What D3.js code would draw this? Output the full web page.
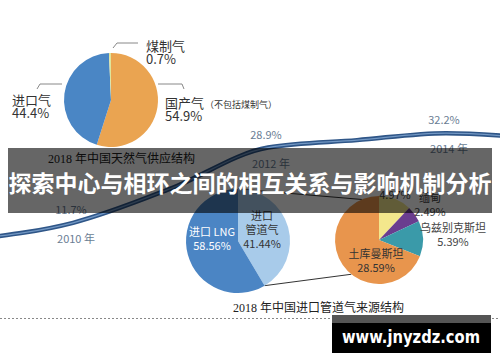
<!DOCTYPE html>
<html>
<head>
<meta charset="utf-8">
<script src="https://cdn.jsdelivr.net/npm/d3@7"></script>
<style>
  body { margin: 0; background: #fff; }
  svg { display: block; }
</style>
</head>
<body>
<div id="chart"></div>
<script>
// 2018 supply structure
const supplyLabels = ["国产气", "进口气", "煤制气"];
const supplyValues = [54.9, 44.4, 0.7];
const supplyColors = ["#eaa451", "#4a86c5", "#dfe59a"];

// import split
const importLabels = ["进口管道气", "进口 LNG"];
const importValues = [41.44, 58.56];
const importColors = ["#a8cbea", "#4b85c4"];

// pipeline gas sources
const pipeLabels = ["哈萨克斯坦", "缅甸", "乌兹别克斯坦", "土库曼斯坦"];
const pipeValues = [4.97, 2.49, 5.39, 28.59];
const pipeColors = ["#f3e78c", "#6a3d8f", "#3a9aa9", "#e8954d"];

// import dependency line
const years = [2009, 2010, 2011, 2012, 2013, 2014, 2015];
const dependency = [8.0, 11.7, 19.5, 28.9, 30.6, 32.2, 31.0];
const labelYears = [2010, 2012, 2014];

const W = 500, H = 362;
const sans = "'Noto Sans CJK SC', 'Noto Sans', sans-serif";
const serif = "'Liberation Serif', 'Noto Sans CJK SC', serif";

const svg = d3.select("#chart").append("svg")
    .attr("width", W)
    .attr("height", H);

// ---- dependency line ----
const x = d3.scaleLinear().domain([2010, 2012, 2014]).range([73, 268, 446]);
const y = d3.scaleLinear().domain([0, 40]).range([274, 99]);

const line = d3.line()
    .x((d, i) => x(years[i]))
    .y(d => y(d))
    .curve(d3.curveMonotoneX);

svg.append("path")
    .attr("d", line(dependency))
    .attr("fill", "none")
    .attr("stroke", "#2f5688")
    .attr("stroke-width", 4.5);
svg.append("path")
    .attr("d", line(dependency))
    .attr("fill", "none")
    .attr("stroke", "#7398c4")
    .attr("stroke-width", 1.3);

labelYears.forEach(yr => {
    const v = dependency[years.indexOf(yr)];
    svg.append("text")
        .attr("x", x(yr) - 2)
        .attr("y", y(v) - 9)
        .attr("text-anchor", "middle")
        .attr("font-family", sans)
        .attr("font-size", 11)
        .attr("fill", "#6a7d93")
        .text(v.toFixed(1) + "%");
    svg.append("text")
        .attr("x", x(yr) + 3)
        .attr("y", y(v) + 20)
        .attr("text-anchor", "middle")
        .attr("font-family", sans)
        .attr("font-size", 11)
        .attr("fill", "#6a7d93")
        .text(yr + " 年");
});

// ---- pie 1: supply ----
const pie = d3.pie().sort(null).value(d => d);

const p1 = {cx: 111, cy: 100, r: 47};
const g1 = svg.append("g").attr("transform", `translate(${p1.cx},${p1.cy})`);
g1.selectAll("path")
    .data(pie(supplyValues))
    .enter()
    .append("path")
    .attr("d", d3.arc().innerRadius(0).outerRadius(p1.r))
    .attr("fill", (d, i) => supplyColors[i]);

const leaders = [
    [[158, 84], [182, 84], [184, 89]],
    [[37, 89], [40, 84], [62, 84]],
    [[113, 48], [117, 43], [138, 43]]
];
leaders.forEach(pts => {
    svg.append("path")
        .attr("d", d3.line()(pts))
        .attr("fill", "none")
        .attr("stroke", "#888")
        .attr("stroke-width", 1);
});

const supplyPos = [[165, 108], [12, 105], [146, 51]];
supplyLabels.forEach((lab, i) => {
    const t = svg.append("text")
        .attr("x", supplyPos[i][0])
        .attr("y", supplyPos[i][1])
        .attr("font-family", sans)
        .attr("font-size", 13)
        .attr("fill", "#333");
    t.append("tspan").text(lab);
    if (i === 0) {
        t.append("tspan").attr("font-size", 9).attr("dx", 1).text("（不包括煤制气）");
    }
    svg.append("text")
        .attr("x", supplyPos[i][0])
        .attr("y", supplyPos[i][1] + 13)
        .attr("font-family", sans)
        .attr("font-size", 13)
        .attr("fill", "#333")
        .text(supplyValues[i] + "%");
});

svg.append("text")
    .attr("x", 48)
    .attr("y", 163)
    .attr("font-family", serif)
    .attr("font-size", 12)
    .attr("fill", "#222")
    .text("2018 年中国天然气供应结构");

// ---- pie 2 + pie 3 ----
const p2 = {cx: 238, cy: 241, r: 52};
const p3 = {cx: 379, cy: 240, r: 44};
const arcs2 = pie(importValues);
const arcs3 = pie(pipeValues);

function onCircle(p, a) {
    return [p.cx + p.r * Math.sin(a), p.cy - p.r * Math.cos(a)];
}
[[onCircle(p2, arcs2[0].startAngle), onCircle(p3, -0.4)],
 [onCircle(p2, arcs2[0].endAngle), onCircle(p3, 3.82)]].forEach(seg => {
    svg.append("path")
        .attr("d", d3.line()(seg))
        .attr("stroke", "#333")
        .attr("stroke-width", 1);
});

const g2 = svg.append("g").attr("transform", `translate(${p2.cx},${p2.cy})`);
g2.selectAll("path")
    .data(arcs2)
    .enter()
    .append("path")
    .attr("d", d3.arc().innerRadius(0).outerRadius(p2.r))
    .attr("fill", (d, i) => importColors[i]);

const g3 = svg.append("g").attr("transform", `translate(${p3.cx},${p3.cy})`);
g3.selectAll("path")
    .data(arcs3)
    .enter()
    .append("path")
    .attr("d", d3.arc().innerRadius(0).outerRadius(p3.r))
    .attr("fill", (d, i) => pipeColors[i]);

function multiText(lines, px, py, color, size) {
    lines.forEach((s, k) => {
        svg.append("text")
            .attr("x", px)
            .attr("y", py + k * 14)
            .attr("text-anchor", "middle")
            .attr("font-family", sans)
            .attr("font-size", size || 11)
            .attr("fill", color)
            .text(s);
    });
}

multiText(["进口", "管道气", importValues[0].toFixed(2) + "%"], 262, 220, "#333");
multiText(["进口 LNG", importValues[1].toFixed(2) + "%"], 212, 236, "#fff");

multiText([pipeValues[0].toFixed(2) + "%"], 395, 199, "#444");
multiText([pipeLabels[1], pipeValues[1].toFixed(2) + "%"], 430, 202, "#444");
multiText([pipeLabels[2], pipeValues[2].toFixed(2) + "%"], 453, 232, "#444");
multiText([pipeLabels[3], pipeValues[3].toFixed(2) + "%"], 376, 258, "#333");

svg.append("text")
    .attr("x", 233)
    .attr("y", 312)
    .attr("font-family", serif)
    .attr("font-size", 12)
    .attr("fill", "#222")
    .text("2018 年中国进口管道气来源结构");

// dotted separator
svg.append("line")
    .attr("x1", 0).attr("x2", W)
    .attr("y1", 318.5).attr("y2", 318.5)
    .attr("stroke", "#888")
    .attr("stroke-dasharray", "2,2");

// ---- title banner ----
svg.append("rect")
    .attr("x", 8).attr("y", 148)
    .attr("width", 484).attr("height", 65)
    .attr("fill", "rgba(0,0,0,0.6)");
svg.append("text")
    .attr("x", 250)
    .attr("y", 192)
    .attr("text-anchor", "middle")
    .attr("font-family", sans)
    .attr("font-weight", "bold")
    .attr("font-size", 23)
    .attr("fill", "#fff")
    .text("探索中心与相环之间的相互关系与影响机制分析");

// ---- watermark ----
svg.append("rect")
    .attr("x", 332).attr("y", 315)
    .attr("width", 159).attr("height", 38)
    .attr("fill", "#000");
svg.append("rect")
    .attr("x", 332).attr("y", 315)
    .attr("width", 159).attr("height", 8)
    .attr("fill", "#555");
svg.append("text")
    .attr("x", 342)
    .attr("y", 343)
    .attr("font-family", "'DejaVu Sans', sans-serif")
    .attr("font-weight", "bold")
    .attr("font-size", 17)
    .attr("textLength", 138)
    .attr("lengthAdjust", "spacingAndGlyphs")
    .attr("fill", "#fff")
    .text("www.jnyzdz.com");
</script>
</body>
</html>
